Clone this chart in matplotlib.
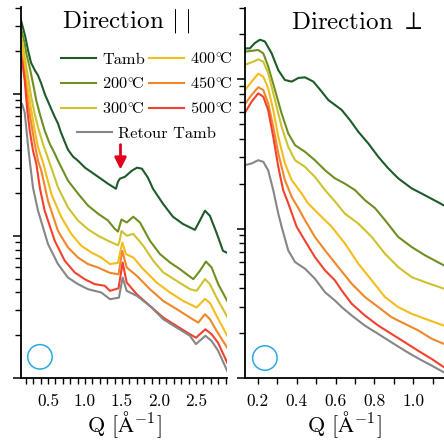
import matplotlib
matplotlib.use("Agg")
import matplotlib.pyplot as plt
from matplotlib.ticker import NullFormatter, FixedLocator, LogLocator

plt.rcParams['font.family'] = 'serif'
plt.rcParams['font.serif'] = ['cmr10', 'DejaVu Serif']
plt.rcParams['mathtext.fontset'] = 'cm'
plt.rcParams['axes.unicode_minus'] = False

# ---------------- data: Direction parallel ----------------
qp_tamb = [0.135, 0.189, 0.230, 0.270, 0.324, 0.365, 0.405, 0.459, 0.500, 0.541, 0.595, 0.635, 0.676,
           0.730, 0.770, 0.838, 0.905, 1.000, 1.176, 1.311, 1.419, 1.446, 1.473, 1.541, 1.635, 1.703,
           1.770, 1.851, 1.919, 2.054, 2.189, 2.324, 2.486, 2.554, 2.622, 2.689, 2.784, 2.865, 2.919]
ip_tamb = [32.7, 25.6, 20.1, 16.5, 14.5, 13.4, 11.9, 9.84, 8.79, 7.84, 6.78, 6.15, 5.31,
           4.52, 4.03, 3.60, 3.37, 3.01, 2.60, 2.32, 2.14, 2.40, 2.52, 2.60, 2.87, 3.01,
           2.96, 2.56, 2.14, 1.68, 1.36, 1.21, 1.10, 1.28, 1.50, 1.38, 1.03, 0.784, 0.759]

qp_200 = [0.135, 0.185, 0.207, 0.253, 0.297, 0.342, 0.388, 0.455, 0.523, 0.591, 0.635, 0.770, 0.905,
          1.041, 1.176, 1.311, 1.401, 1.446, 1.493, 1.564, 1.653, 1.743, 1.878, 2.014, 2.149, 2.284,
          2.464, 2.554, 2.635, 2.712, 2.801, 2.923]
ip_200 = [28.7, 22.5, 19.1, 15.2, 11.8, 8.93, 7.23, 5.49, 4.44, 3.78, 3.37, 2.44, 1.98,
          1.63, 1.43, 1.28, 1.12, 1.07, 1.30, 1.24, 1.36, 1.24, 0.922, 0.743, 0.649, 0.582,
          0.495, 0.567, 0.659, 0.598, 0.457, 0.348]

qp_300 = [0.135, 0.149, 0.185, 0.230, 0.274, 0.320, 0.365, 0.432, 0.500, 0.635, 0.770, 0.905, 1.041,
          1.176, 1.311, 1.446, 1.469, 1.493, 1.564, 1.653, 1.788, 1.923, 2.058, 2.239, 2.419, 2.509,
          2.622, 2.689, 2.780, 2.923]
ip_300 = [25.2, 23.6, 18.0, 13.0, 9.42, 7.19, 5.79, 4.42, 3.51, 2.19, 1.58, 1.28, 1.11,
          1.00, 0.922, 0.857, 0.922, 1.08, 1.00, 1.03, 0.850, 0.667, 0.552, 0.482, 0.421, 0.410,
          0.496, 0.457, 0.367, 0.269]

qp_400 = [0.135, 0.149, 0.185, 0.230, 0.274, 0.320, 0.365, 0.432, 0.545, 0.680, 0.815, 0.950, 1.085,
          1.220, 1.338, 1.446, 1.504, 1.554, 1.653, 1.788, 1.969, 2.149, 2.328, 2.509, 2.622, 2.689,
          2.780, 2.923]
ip_400 = [22.1, 21.2, 15.3, 10.5, 7.59, 5.49, 4.19, 3.28, 1.97, 1.35, 1.03, 0.850, 0.763,
          0.703, 0.632, 0.645, 0.897, 0.743, 0.703, 0.582, 0.469, 0.399, 0.348, 0.313, 0.360, 0.337,
          0.273, 0.198]

qp_450 = [0.135, 0.149, 0.185, 0.230, 0.274, 0.320, 0.365, 0.409, 0.500, 0.635, 0.770, 0.905, 1.041,
          1.176, 1.338, 1.453, 1.504, 1.564, 1.700, 1.878, 2.058, 2.239, 2.419, 2.531, 2.622, 2.689,
          2.780, 2.923]
ip_450 = [18.8, 18.0, 13.0, 8.46, 6.12, 4.42, 3.37, 2.87, 1.76, 1.08, 0.827, 0.703, 0.632,
          0.598, 0.548, 0.536, 0.784, 0.598, 0.523, 0.421, 0.348, 0.305, 0.266, 0.245, 0.281, 0.259,
          0.214, 0.163]

qp_500 = [0.135, 0.149, 0.185, 0.220, 0.253, 0.297, 0.342, 0.392, 0.455, 0.591, 0.726, 0.861, 0.996,
          1.131, 1.266, 1.338, 1.453, 1.509, 1.564, 1.700, 1.878, 2.058, 2.239, 2.419, 2.500, 2.628,
          2.712, 2.801, 2.923]
ip_500 = [17.4, 17.1, 12.4, 7.59, 5.49, 3.97, 3.21, 2.14, 1.50, 0.922, 0.667, 0.552, 0.495,
          0.457, 0.445, 0.410, 0.427, 0.649, 0.469, 0.388, 0.321, 0.266, 0.232, 0.203, 0.192, 0.220,
          0.203, 0.176, 0.128]

qp_ret = [0.135, 0.149, 0.185, 0.207, 0.230, 0.253, 0.297, 0.365, 0.500, 0.635, 0.770, 0.905, 1.041,
          1.220, 1.338, 1.459, 1.509, 1.564, 1.700, 1.878, 2.058, 2.239, 2.419, 2.500, 2.628, 2.712,
          2.801, 2.923]
ip_ret = [8.23, 8.46, 7.35, 5.67, 4.30, 3.37, 2.18, 1.50, 0.874, 0.632, 0.508, 0.457, 0.421,
          0.399, 0.358, 0.367, 0.508, 0.410, 0.378, 0.321, 0.259, 0.226, 0.198, 0.173, 0.198, 0.182,
          0.155, 0.112]

# ---------------- data: Direction perpendicular ----------------
qn_tamb = [0.135, 0.160, 0.186, 0.212, 0.237, 0.272, 0.306, 0.340, 0.375, 0.409, 0.443, 0.486, 0.529,
           0.563, 0.597, 0.632, 0.674, 0.717, 0.768, 0.820, 0.871, 0.922, 0.991, 1.060, 1.157]
in_tamb = [16.1, 16.1, 17.5, 18.4, 17.9, 14.9, 11.5, 9.89, 9.64, 10.2, 10.3, 9.64, 8.26,
           7.26, 6.73, 6.22, 5.33, 4.45, 3.72, 3.02, 2.53, 2.17, 1.86, 1.67, 1.43]

qn_200 = [0.135, 0.203, 0.229, 0.254, 0.289, 0.323, 0.357, 0.392, 0.443, 0.494, 0.546, 0.597, 0.648,
          0.700, 0.751, 0.803, 0.854, 0.922, 0.991, 1.060, 1.157]
in_200 = [15.3, 15.7, 14.9, 12.2, 8.47, 5.91, 4.34, 3.62, 3.27, 2.87, 2.46, 2.17, 2.00,
          1.81, 1.55, 1.37, 1.14, 0.879, 0.753, 0.662, 0.567]

qn_300 = [0.135, 0.177, 0.203, 0.229, 0.254, 0.289, 0.323, 0.357, 0.392, 0.443, 0.494, 0.546, 0.597,
          0.648, 0.717, 0.786, 0.854, 0.922, 0.991, 1.060, 1.157]
in_300 = [12.5, 13.1, 13.6, 13.1, 11.0, 7.26, 4.81, 3.53, 2.87, 2.59, 2.22, 1.81, 1.52,
          1.26, 1.08, 0.879, 0.679, 0.553, 0.473, 0.438, 0.396]

qn_400 = [0.135, 0.169, 0.203, 0.229, 0.254, 0.280, 0.306, 0.340, 0.375, 0.426, 0.458, 0.511, 0.580,
          0.649, 0.717, 0.786, 0.854, 0.922, 0.991, 1.060, 1.157]
in_400 = [8.47, 9.64, 10.9, 10.4, 8.71, 6.22, 4.12, 2.73, 2.11, 1.72, 1.48, 1.26, 1.03,
          0.793, 0.582, 0.450, 0.348, 0.298, 0.269, 0.249, 0.224]

qn_450 = [0.135, 0.169, 0.203, 0.229, 0.254, 0.280, 0.306, 0.340, 0.375, 0.409, 0.443, 0.494, 0.546,
          0.614, 0.683, 0.751, 0.820, 0.888, 0.957, 1.025, 1.094, 1.157]
in_450 = [6.83, 7.85, 8.84, 8.47, 6.90, 4.81, 3.19, 2.11, 1.63, 1.37, 1.14, 0.879, 0.715,
          0.553, 0.428, 0.348, 0.298, 0.255, 0.230, 0.208, 0.183, 0.169]

qn_500 = [0.135, 0.169, 0.203, 0.229, 0.254, 0.280, 0.306, 0.331, 0.357, 0.400, 0.452, 0.494, 0.546,
          0.597, 0.632, 0.683, 0.751, 0.820, 0.888, 0.957, 1.025, 1.094, 1.157]
in_500 = [5.97, 7.08, 8.05, 7.64, 6.22, 4.12, 2.59, 1.81, 1.48, 1.03, 0.793, 0.645, 0.525,
          0.450, 0.385, 0.314, 0.262, 0.224, 0.197, 0.173, 0.152, 0.134, 0.118]

qn_ret = [0.135, 0.169, 0.203, 0.229, 0.254, 0.280, 0.306, 0.323, 0.357, 0.392, 0.443, 0.494, 0.546,
          0.597, 0.632, 0.683, 0.751, 0.820, 0.888, 0.957, 1.025, 1.094, 1.157]
in_ret = [2.66, 2.73, 2.87, 2.80, 2.46, 1.81, 1.26, 1.03, 0.715, 0.597, 0.539, 0.462, 0.375,
          0.330, 0.298, 0.262, 0.224, 0.197, 0.173, 0.152, 0.135, 0.121, 0.109]

labels = ['Tamb', r'$\mathrm{200}^{\circ}\!\mathrm{C}$', r'$\mathrm{300}^{\circ}\!\mathrm{C}$',
          r'$\mathrm{400}^{\circ}\!\mathrm{C}$', r'$\mathrm{450}^{\circ}\!\mathrm{C}$',
          r'$\mathrm{500}^{\circ}\!\mathrm{C}$', 'Retour Tamb']
colors = ['#1d5c2a', '#6f8f22', '#cfc22f', '#f3bd1c', '#f1862a', '#f2412d', '#868686']

par = [(qp_tamb, ip_tamb), (qp_200, ip_200), (qp_300, ip_300), (qp_400, ip_400),
       (qp_450, ip_450), (qp_500, ip_500), (qp_ret, ip_ret)]
per = [(qn_tamb, in_tamb), (qn_200, in_200), (qn_300, in_300), (qn_400, in_400),
       (qn_450, in_450), (qn_500, in_500), (qn_ret, in_ret)]

fig = plt.figure(figsize=(4.44, 4.41), dpi=100)
ax1 = fig.add_axes([0.0473, 0.1429, 0.464, 0.841])
ax2 = fig.add_axes([0.5518, 0.1429, 0.4482, 0.839])

lines = []
for (q, i), c, lab in zip(par, colors, labels):
    ln, = ax1.plot(q, i, color=c, lw=1.5, label=lab, solid_joinstyle='round')
    lines.append(ln)
for (q, i), c in zip(per, colors):
    ax2.plot(q, i, color=c, lw=1.5, solid_joinstyle='round')

for ax in (ax1, ax2):
    ax.set_yscale('log')
    for s in ('top', 'right'):
        ax.spines[s].set_visible(False)
    for s in ('left', 'bottom'):
        ax.spines[s].set_linewidth(1.3)
    ax.yaxis.set_major_formatter(NullFormatter())
    ax.yaxis.set_minor_formatter(NullFormatter())
    ax.yaxis.set_major_locator(LogLocator(base=10, numticks=10))
    ax.yaxis.set_minor_locator(LogLocator(base=10, subs=range(2, 10), numticks=10))
    ax.tick_params(axis='y', which='major', direction='out', length=6, width=1.1)
    ax.tick_params(axis='y', which='minor', direction='out', length=4, width=1.0)
    ax.tick_params(axis='x', which='both', direction='out', length=4, width=1.0,
                   pad=7.5, labelsize=12.5)
    ax.set_xlabel(r'Q [$\mathrm{\AA}^{\mathrm{-1}}$]', fontsize=16, labelpad=0)

ax1.set_xlim(0.135, 2.92)
ax1.set_ylim(0.1, 40.5)
ax1.xaxis.set_major_locator(FixedLocator([0.5, 1.0, 1.5, 2.0, 2.5]))
ax1.xaxis.set_minor_locator(FixedLocator([0.2 + 0.1 * k for k in range(28)]))
ax1.set_xticklabels(['0.5', '1.0', '1.5', '2.0', '2.5'])

ax2.set_xlim(0.135, 1.157)
ax2.set_ylim(0.1, 30)
ax2.xaxis.set_major_locator(FixedLocator([0.2, 0.4, 0.6, 0.8, 1.0]))
ax2.xaxis.set_minor_locator(FixedLocator([0.3, 0.5, 0.7, 0.9, 1.1]))
ax2.set_xticklabels(['0.2', '0.4', '0.6', '0.8', '1.0'])

ax1.text(0.51, 0.946, r'Direction $|\;|$', transform=ax1.transAxes, ha='center',
         va='baseline', fontsize=18)
ax2.text(0.56, 0.943, r'Direction $\perp$', transform=ax2.transAxes, ha='center',
         va='baseline', fontsize=18)

leg1 = ax1.legend(handles=lines[:6], ncol=2, loc='upper left', bbox_to_anchor=(0.194, 0.882),
                  frameon=False, fontsize=11.8, handlelength=2.15, handletextpad=0.35,
                  labelspacing=0.55, columnspacing=0.25, borderpad=0, borderaxespad=0)
ax1.add_artist(leg1)
ax1.legend(handles=lines[6:], loc='upper left', bbox_to_anchor=(0.27, 0.678), frameon=False,
           fontsize=11.8, handlelength=2.15, handletextpad=0.35, borderpad=0, borderaxespad=0)

ax1.annotate('', xy=(1.48, 2.92), xytext=(1.48, 4.37),
             arrowprops=dict(arrowstyle='-|>,head_length=0.7,head_width=0.35', color='#e0001b',
                             lw=2, shrinkA=0, shrinkB=0))

for ax, (cx, cy) in ((ax1, (0.092, 0.057)), (ax2, (0.10, 0.054))):
    ax.scatter([cx], [cy], s=310, facecolors='none', edgecolors='#2aa9e0', linewidths=1.1,
               transform=ax.transAxes, clip_on=False, zorder=5)

fig.savefig('out.png', dpi=100)
